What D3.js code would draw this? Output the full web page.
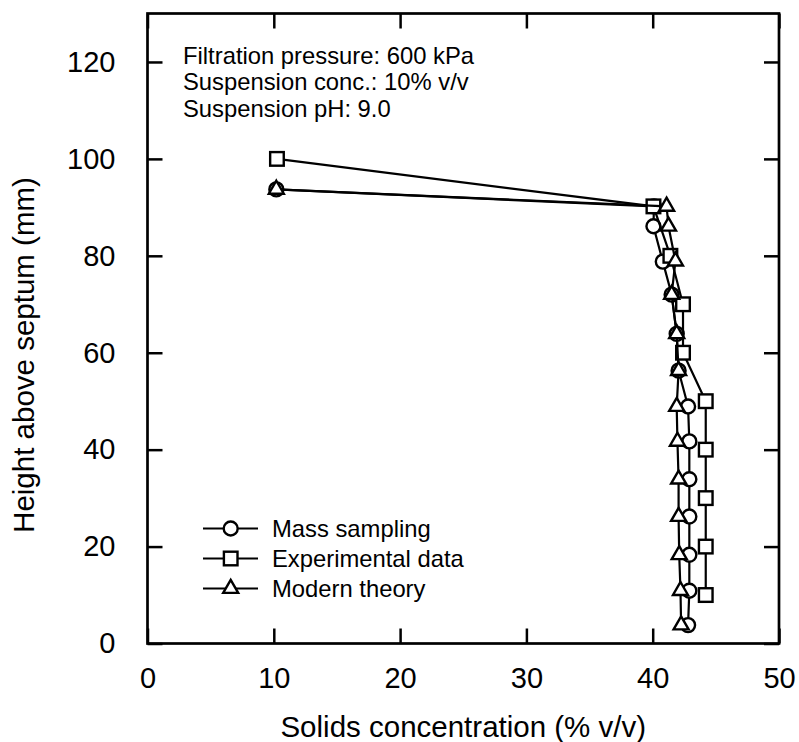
<!DOCTYPE html>
<html>
<head>
<meta charset="utf-8">
<script src="https://cdn.jsdelivr.net/npm/d3@7"></script>
<style>
  body { margin: 0; background: #fff; }
  svg text { font-family: "Liberation Sans", Arial, sans-serif; fill: #000; }
</style>
</head>
<body>
<svg id="chart" width="799" height="742"></svg>
<script>

// data
var massX = [10.2, 40.1, 40.06, 40.8, 41.5, 41.9, 42.05, 42.8, 42.9, 42.9, 42.9, 42.9, 42.9, 42.8];
var massY = [93.7, 90.2, 86.1, 78.8, 72, 63.9, 56.3, 48.9, 41.7, 33.9, 26.2, 18.3, 10.9, 3.8];

var expX = [10.25, 40.06, 41.4, 42.4, 42.4, 44.2, 44.2, 44.2, 44.2, 44.2];
var expY = [100, 90.2, 80, 70, 60, 50, 40, 30, 20, 10];

var theoryX = [10.2, 41.1, 41.25, 41.8, 41.5, 41.9, 42.05, 41.9, 41.96, 42.05, 42.05, 42.1, 42.2, 42.25];
var theoryY = [93.7, 90.2, 86.1, 78.9, 72, 63.9, 56.3, 48.9, 41.7, 33.9, 26.2, 18.3, 10.9, 3.8];

var xTicks = [0, 10, 20, 30, 40, 50];
var yTicks = [0, 20, 40, 60, 80, 100, 120];

var seriesNames = ["Mass sampling", "Experimental data", "Modern theory"];
var notes = ["Filtration pressure: 600 kPa", "Suspension conc.: 10% v/v", "Suspension pH: 9.0"];

var svg = d3.select("#chart");

var plotLeft = 147.5, plotRight = 779, plotTop = 13.5, plotBottom = 643.5;

var x = d3.scaleLinear().domain([0, 50]).range([plotLeft, plotRight]);
var y = d3.scaleLinear().domain([0, 130]).range([plotBottom, plotTop]);

// marker shapes
function marker(g, shape) {
    if (shape == "circle") {
        g.append("circle").attr("r", 7);
    } else if (shape == "square") {
        g.append("rect").attr("x", -6.8).attr("y", -6.8).attr("width", 13.6).attr("height", 13.6);
    } else {
        var s = 15, h = s * Math.sqrt(3) / 2;
        g.append("path").attr("d", "M0," + (-2 * h / 3) + "L" + (s / 2) + "," + (h / 3) + "L" + (-s / 2) + "," + (h / 3) + "Z");
    }
    g.selectAll("*").attr("fill", "#fff").attr("stroke", "#000").attr("stroke-width", 2.4);
}

var series = [
    { name: seriesNames[0], xs: massX, ys: massY, shape: "circle" },
    { name: seriesNames[1], xs: expX, ys: expY, shape: "square" },
    { name: seriesNames[2], xs: theoryX, ys: theoryY, shape: "triangle" }
];

var line = d3.line().x(d => x(d[0])).y(d => y(d[1]));

series.forEach(function(s) {
    var pts = s.xs.map((v, i) => [v, s.ys[i]]);
    svg.append("path")
        .datum(pts)
        .attr("d", line)
        .attr("fill", "none")
        .attr("stroke", "#000")
        .attr("stroke-width", 2.2);
    svg.selectAll(null)
        .data(pts)
        .enter()
        .append("g")
        .attr("transform", d => "translate(" + x(d[0]) + "," + y(d[1]) + ")")
        .each(function() { marker(d3.select(this), s.shape); });
});

// axes, ticks inside on all four sides
svg.append("g")
    .attr("transform", "translate(0," + plotBottom + ")")
    .call(d3.axisBottom(x).tickValues(xTicks).tickSizeInner(-15).tickSizeOuter(0).tickPadding(24))
    .call(g => g.select(".domain").remove());
svg.append("g")
    .attr("transform", "translate(0," + plotTop + ")")
    .call(d3.axisTop(x).tickValues(xTicks).tickSizeInner(-15).tickSizeOuter(0).tickFormat(""))
    .call(g => g.select(".domain").remove());
svg.append("g")
    .attr("transform", "translate(" + plotLeft + ",0)")
    .call(d3.axisLeft(y).tickValues(yTicks).tickSizeInner(-15).tickSizeOuter(0).tickPadding(32))
    .call(g => g.select(".domain").remove());
svg.append("g")
    .attr("transform", "translate(" + plotRight + ",0)")
    .call(d3.axisRight(y).tickValues(yTicks).tickSizeInner(-15).tickSizeOuter(0).tickFormat(""))
    .call(g => g.select(".domain").remove());

svg.selectAll(".tick line").attr("stroke", "#000").attr("stroke-width", 2.5);
svg.selectAll(".tick text")
    .style("font-family", "'Liberation Sans', Arial, sans-serif")
    .style("font-size", "29px")
    .attr("fill", "#000");

svg.append("rect")
    .attr("x", plotLeft).attr("y", plotTop)
    .attr("width", plotRight - plotLeft).attr("height", plotBottom - plotTop)
    .attr("fill", "none").attr("stroke", "#000").attr("stroke-width", 2.7);

// axis titles
svg.append("text")
    .attr("x", (plotLeft + plotRight) / 2)
    .attr("y", 737)
    .attr("text-anchor", "middle")
    .style("font-size", "29.5px")
    .text("Solids concentration (% v/v)");

svg.append("text")
    .attr("transform", "translate(34,355) rotate(-90)")
    .attr("text-anchor", "middle")
    .style("font-size", "29.5px")
    .text("Height above septum (mm)");

// condition notes
svg.selectAll(".note")
    .data(notes)
    .enter()
    .append("text")
    .attr("class", "note")
    .attr("x", 183)
    .attr("y", (d, i) => 63.5 + i * 26.7)
    .style("font-size", "23.8px")
    .text(d => d);

// legend
var legend = svg.append("g");
series.forEach(function(s, i) {
    var ly = 528.5 + i * 30;
    legend.append("line")
        .attr("x1", 203).attr("x2", 258)
        .attr("y1", ly).attr("y2", ly)
        .attr("stroke", "#000").attr("stroke-width", 2.2);
    var g = legend.append("g").attr("transform", "translate(230.7," + ly + ")");
    marker(g, s.shape);
    legend.append("text")
        .attr("x", 272)
        .attr("y", ly + 8.5)
        .style("font-size", "23.8px")
        .text(s.name);
});

</script>
</body>
</html>
